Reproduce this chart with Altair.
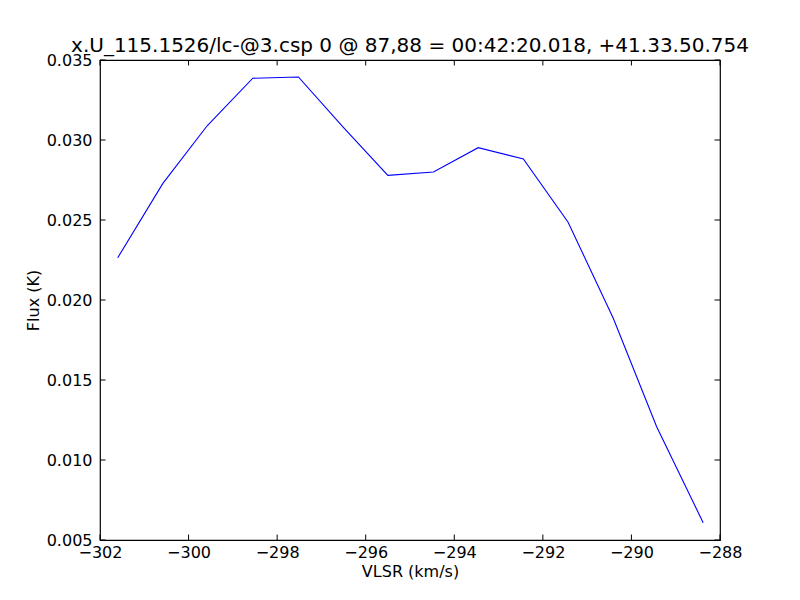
import altair as alt
import pandas as pd

# Data
vlsr = [-301.60, -300.58, -299.58, -298.55, -297.52, -296.51, -295.50,
        -294.47, -293.46, -292.44, -291.43, -290.41, -289.43, -288.38]
flux = [0.02264, 0.02729, 0.03089, 0.03386, 0.03394, 0.03081, 0.02779,
        0.02800, 0.02952, 0.02881, 0.02486, 0.01886, 0.01208, 0.00608]

x_ticks = [-302, -300, -298, -296, -294, -292, -290, -288]
y_ticks = [0.005, 0.010, 0.015, 0.020, 0.025, 0.030, 0.035]

title_text = "x.U_115.1526/lc-@3.csp 0 @ 87,88 = 00:42:20.018, +41.33.50.754"

W, H = 620, 480
TICK = 5.5
FONT = "DejaVu Sans"

df = pd.DataFrame({"vlsr": vlsr, "flux": flux})
xt = pd.DataFrame({"vlsr": x_ticks})
yt = pd.DataFrame({"flux": y_ticks})

xscale = alt.Scale(domain=[-302, -288], nice=False, zero=False)
yscale = alt.Scale(domain=[0.005, 0.035], nice=False, zero=False)

xaxis = alt.Axis(title="VLSR (km/s)", values=x_ticks, format="d",
                 domain=False, ticks=False, grid=False,
                 labelPadding=4, labelFlush=False, labelOverlap=False,
                 labelBound=False,
                 labelFontSize=16, labelFont=FONT, labelColor="black",
                 titleFontSize=16, titleFont=FONT, titleFontWeight="normal",
                 titleColor="black", titlePadding=3)
yaxis = alt.Axis(title="Flux (K)", values=y_ticks, format=".3f",
                 domain=False, ticks=False, grid=False,
                 labelPadding=8, labelFlush=False, labelOverlap=False,
                 labelBound=False,
                 labelFontSize=16, labelFont=FONT, labelColor="black",
                 titleFontSize=16, titleFont=FONT, titleFontWeight="normal",
                 titleColor="black", titlePadding=5)

line = alt.Chart(df).mark_line(color="#0000ff", strokeWidth=1.1).encode(
    x=alt.X("vlsr:Q", scale=xscale, axis=xaxis),
    y=alt.Y("flux:Q", scale=yscale, axis=yaxis),
)

xb = alt.Chart(xt).mark_rule(color="black", strokeWidth=1).encode(
    x=alt.X("vlsr:Q", scale=xscale, axis=xaxis),
    y=alt.value(H), y2=alt.value(H - TICK))
xtop = alt.Chart(xt).mark_rule(color="black", strokeWidth=1).encode(
    x=alt.X("vlsr:Q", scale=xscale, axis=xaxis),
    y=alt.value(0), y2=alt.value(TICK))
yl = alt.Chart(yt).mark_rule(color="black", strokeWidth=1).encode(
    y=alt.Y("flux:Q", scale=yscale, axis=yaxis),
    x=alt.value(0), x2=alt.value(TICK))
yr = alt.Chart(yt).mark_rule(color="black", strokeWidth=1).encode(
    y=alt.Y("flux:Q", scale=yscale, axis=yaxis),
    x=alt.value(W), x2=alt.value(W - TICK))

chart = alt.layer(line, xb, xtop, yl, yr).properties(
    width=W, height=H,
    title=alt.TitleParams(title_text, fontSize=20, font=FONT, fontWeight="normal",
                          color="black", anchor="middle", offset=-4),
    autosize=alt.AutoSizeParams(type="none"),
    padding={"left": 92, "top": 52, "right": 64, "bottom": 52},
).configure(
    background="white",
    view=alt.ViewConfig(stroke="black", strokeWidth=1.2),
)

chart.save("out.html", embed_options={"renderer": "svg", "actions": False})
